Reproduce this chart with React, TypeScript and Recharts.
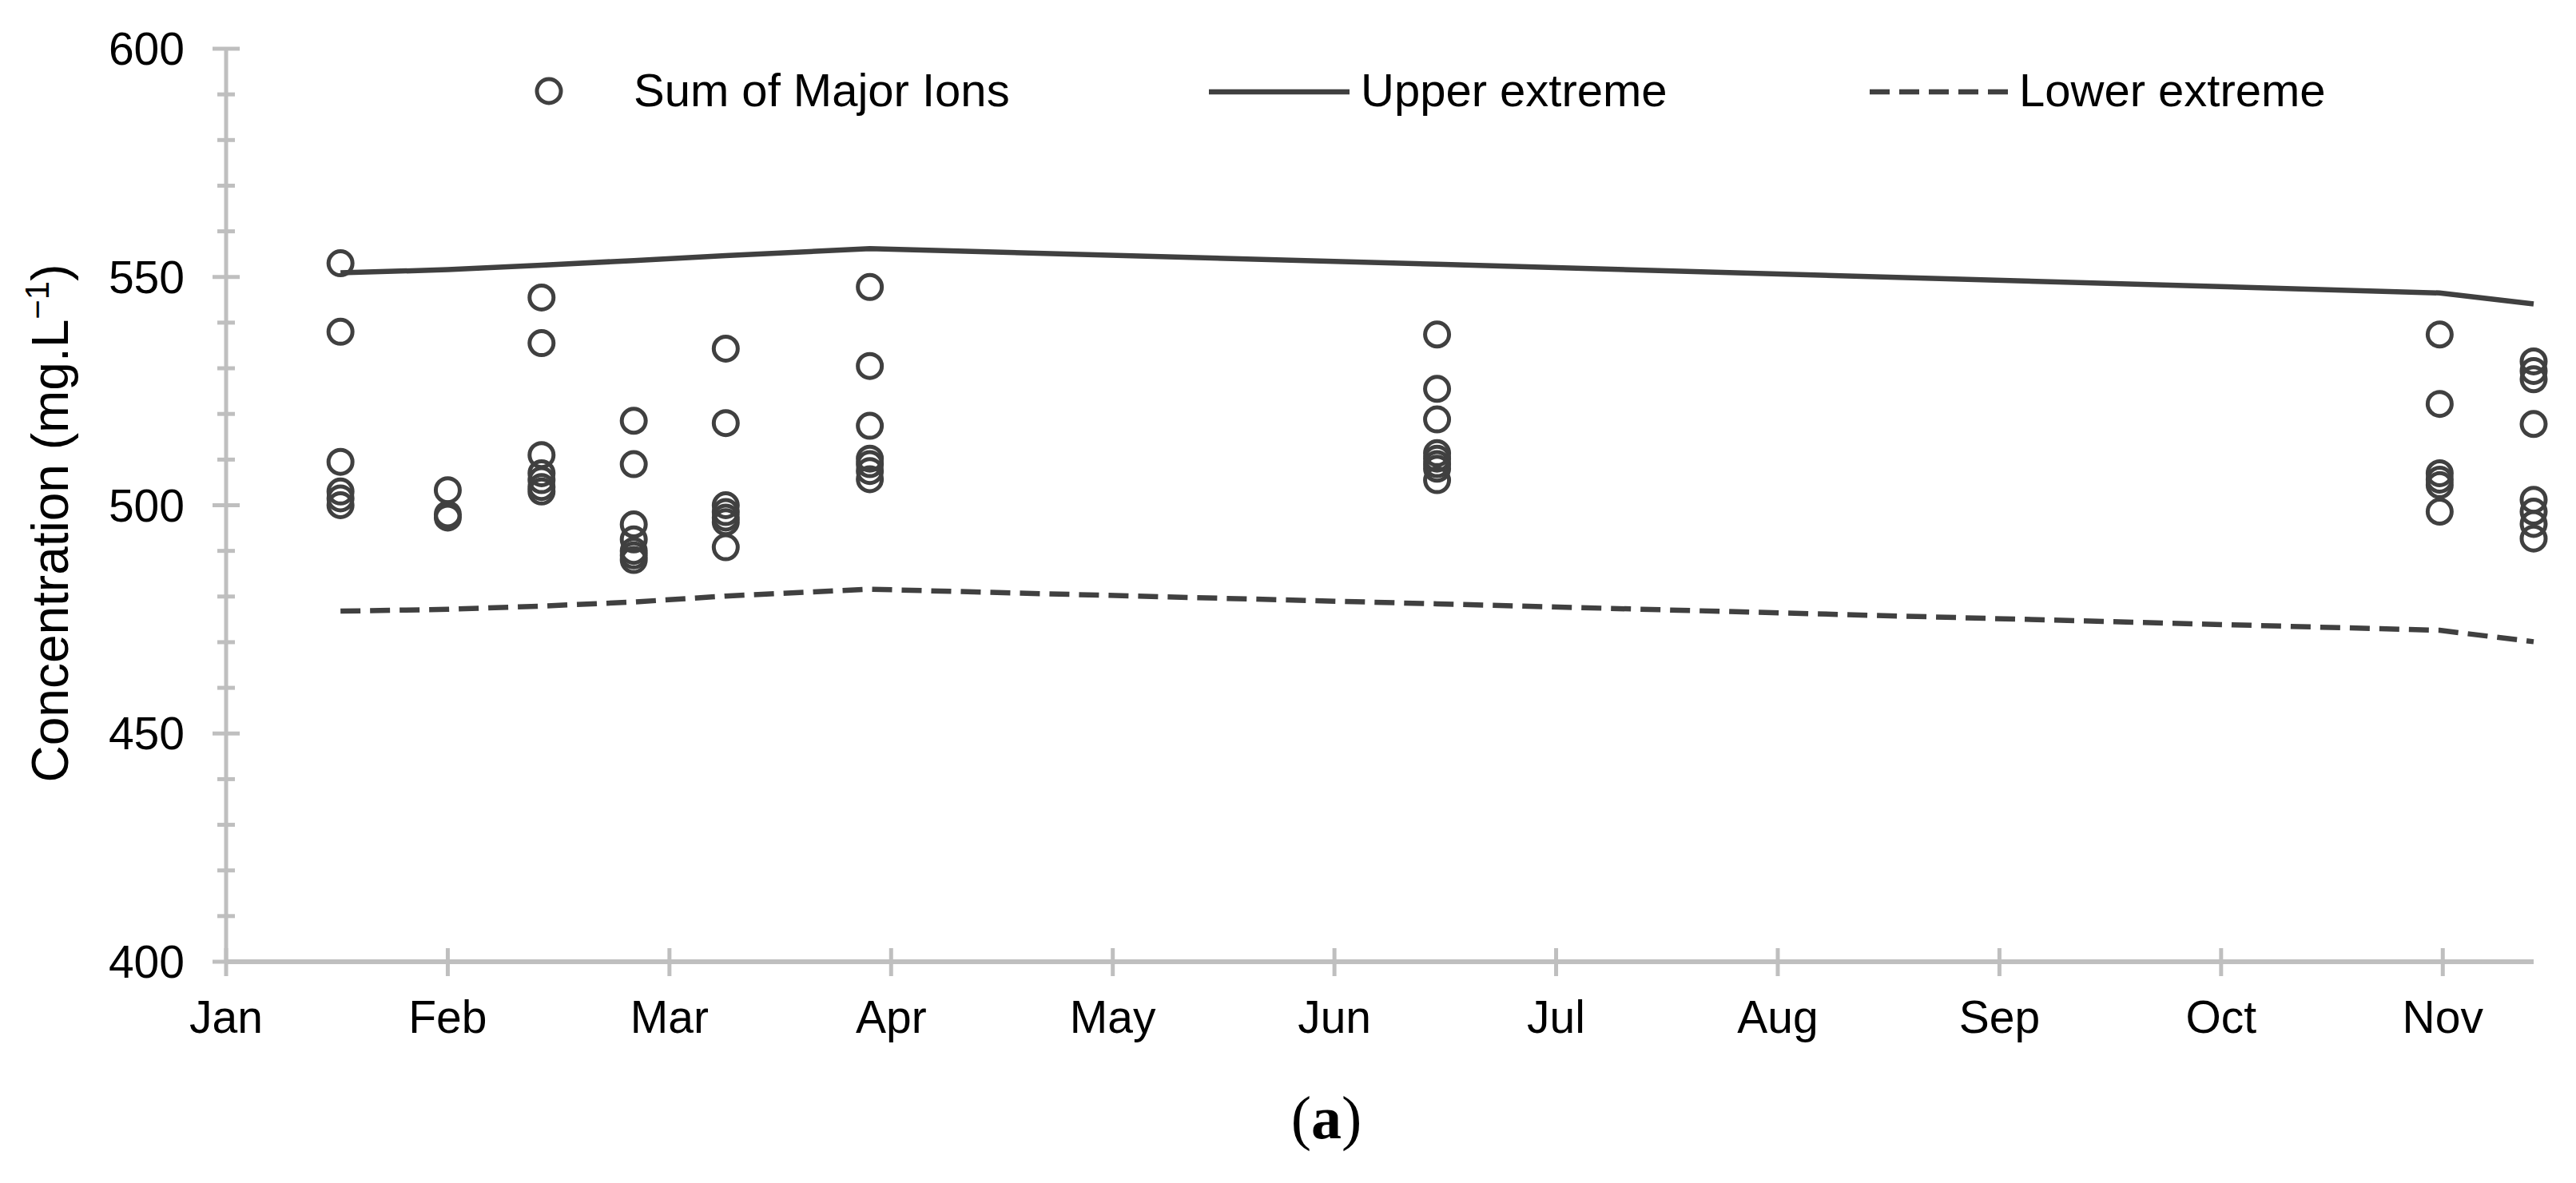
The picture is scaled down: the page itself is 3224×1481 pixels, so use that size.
import React from 'react';
import { ComposedChart, Scatter, Line, XAxis, YAxis, Legend } from 'recharts';

// sampling dates, expressed in months from 1 Jan
const sampleMonths = [0.516, 1.0, 1.423, 1.839, 2.254, 2.904, 5.463, 9.986, 10.41];

// sum of major ions (mg/L) measured at each sampling date
const ionSums = [
    [553, 538, 509.5, 503, 501.5, 500],
    [503.3, 498, 497.3],
    [545.5, 535.5, 511, 507, 505.5, 504, 503],
    [518.5, 509, 495.8, 492.5, 490, 489, 488],
    [534.3, 518, 500, 498.5, 497.3, 496.3, 490.8],
    [547.8, 530.5, 517.4, 510.2, 509, 507.5, 505.7],
    [537.4, 525.5, 518.8, 511.4, 510.2, 509, 508, 505.5],
    [537.4, 522.2, 507, 505.6, 504.4, 498.6],
    [531.5, 529.4, 527.6, 517.8, 501.2, 498.6, 495.9, 492.7],
];

const upperExtreme = [550.9, 551.6, 552.6, 553.6, 554.7, 556.2, 552.8, 546.5, 544.1];
const lowerExtreme = [476.8, 477.2, 477.9, 478.8, 480.1, 481.6, 478.4, 472.6, 470.1];

const monthLabels = ['Jan', 'Feb', 'Mar', 'Apr', 'May', 'Jun', 'Jul', 'Aug', 'Sep', 'Oct', 'Nov'];
const xTicks = [0, 1, 2, 3, 4, 5, 6, 7, 8, 9, 10];
const yTicks = [400, 410, 420, 430, 440, 450, 460, 470, 480, 490, 500, 510, 520, 530, 540, 550, 560, 570, 580, 590, 600];

const seriesNames = ['Sum of Major Ions', 'Upper extreme', 'Lower extreme'];

const ionPoints = sampleMonths.flatMap((m, i) => ionSums[i].map((v) => ({ x: m, y: v })));
const upperData = sampleMonths.map((m, i) => ({ x: m, y: upperExtreme[i] }));
const lowerData = sampleMonths.map((m, i) => ({ x: m, y: lowerExtreme[i] }));

const FONT = '"Liberation Sans", Arial, sans-serif';
const INK = '#404040';
const AXIS = '#bfbfbf';

const YTick = (props: any) => {
    const { x, y, payload } = props;
    const major = payload.value % 50 === 0;
    const half = major ? 17 : 11;
    return (
        <g>
            <line x1={x - half} x2={x + half} y1={y} y2={y} stroke={AXIS} strokeWidth={5} />
            {major && (
                <text x={x - 52} y={y} textAnchor="end" dominantBaseline="central" fontFamily={FONT} fontSize={57} fill="#000">
                    {payload.value}
                </text>
            )}
        </g>
    );
};

const XTick = (props: any) => {
    const { x, y, payload } = props;
    return (
        <g>
            <line x1={x} x2={x} y1={y - 17} y2={y + 18} stroke={AXIS} strokeWidth={5} />
            <text x={x} y={y + 89} textAnchor="middle" fontFamily={FONT} fontSize={57} fill="#000">
                {monthLabels[payload.value]}
            </text>
        </g>
    );
};

const Ring = (props: any) => (
    <circle cx={props.cx} cy={props.cy} r={15} fill="none" stroke={INK} strokeWidth={5} />
);

const renderLegend = () => (
    <svg width={3224} height={200} style={{ display: 'block' }}>
        <circle cx={687} cy={114} r={15} fill="none" stroke={INK} strokeWidth={5} />
        <text x={793} y={133} fontFamily={FONT} fontSize={58} fill="#000">{seriesNames[0]}</text>
        <line x1={1513} x2={1689} y1={115} y2={115} stroke={INK} strokeWidth={6.5} />
        <text x={1703} y={133} fontFamily={FONT} fontSize={58} fill="#000">{seriesNames[1]}</text>
        <line x1={2340} x2={2513} y1={115} y2={115} stroke={INK} strokeWidth={6.5} strokeDasharray="25 12" />
        <text x={2527} y={133} fontFamily={FONT} fontSize={58} fill="#000">{seriesNames[2]}</text>
    </svg>
);

const YLabel = () => (
    <text transform="translate(85,655) rotate(-90)" textAnchor="middle" fontFamily={FONT} fontSize={64} fill="#000">
        Concentration (mg.L<tspan dy={-24} fontSize={42}>−1</tspan><tspan dy={24}>)</tspan>
    </text>
);

export default function App() {
    return (
        <div style={{ position: 'absolute', left: 0, top: 0, width: 3224, height: 1481, background: '#fff' }}>
            <ComposedChart width={3224} height={1481} margin={{ top: 61, right: 53, bottom: 0, left: 0 }}>
                <XAxis
                    dataKey="x"
                    type="number"
                    domain={[0, 10.41]}
                    ticks={xTicks}
                    interval={0}
                    height={277}
                    tickSize={0}
                    tickMargin={0}
                    tickLine={false}
                    tick={<XTick />}
                    axisLine={{ stroke: AXIS, strokeWidth: 6 }}
                />
                <YAxis
                    dataKey="y"
                    type="number"
                    domain={[400, 600]}
                    ticks={yTicks}
                    interval={0}
                    width={283}
                    tickSize={0}
                    tickMargin={0}
                    tickLine={false}
                    tick={<YTick />}
                    axisLine={{ stroke: AXIS, strokeWidth: 5 }}
                    label={{ content: <YLabel /> }}
                />
                <Legend
                    layout="horizontal"
                    verticalAlign="middle"
                    align="center"
                    wrapperStyle={{ top: 0, left: 0, width: 3224, height: 200 }}
                    content={renderLegend}
                />
                <Scatter name={seriesNames[0]} data={ionPoints} shape={<Ring />} isAnimationActive={false} />
                <Line
                    name={seriesNames[1]}
                    data={upperData}
                    dataKey="y"
                    type="linear"
                    stroke={INK}
                    strokeWidth={6.5}
                    dot={false}
                    activeDot={false}
                    isAnimationActive={false}
                />
                <Line
                    name={seriesNames[2]}
                    data={lowerData}
                    dataKey="y"
                    type="linear"
                    stroke={INK}
                    strokeWidth={6.5}
                    strokeDasharray="25 12"
                    dot={false}
                    activeDot={false}
                    isAnimationActive={false}
                />
            </ComposedChart>
            <svg width={3224} height={1481} style={{ position: 'absolute', left: 0, top: 0, pointerEvents: 'none' }}>
                <text x={1660} y={1425} textAnchor="middle" fontFamily='"Liberation Serif", "Times New Roman", serif' fontSize={76} fill="#000">
                    (<tspan fontWeight="bold">a</tspan>)
                </text>
            </svg>
        </div>
    );
}
